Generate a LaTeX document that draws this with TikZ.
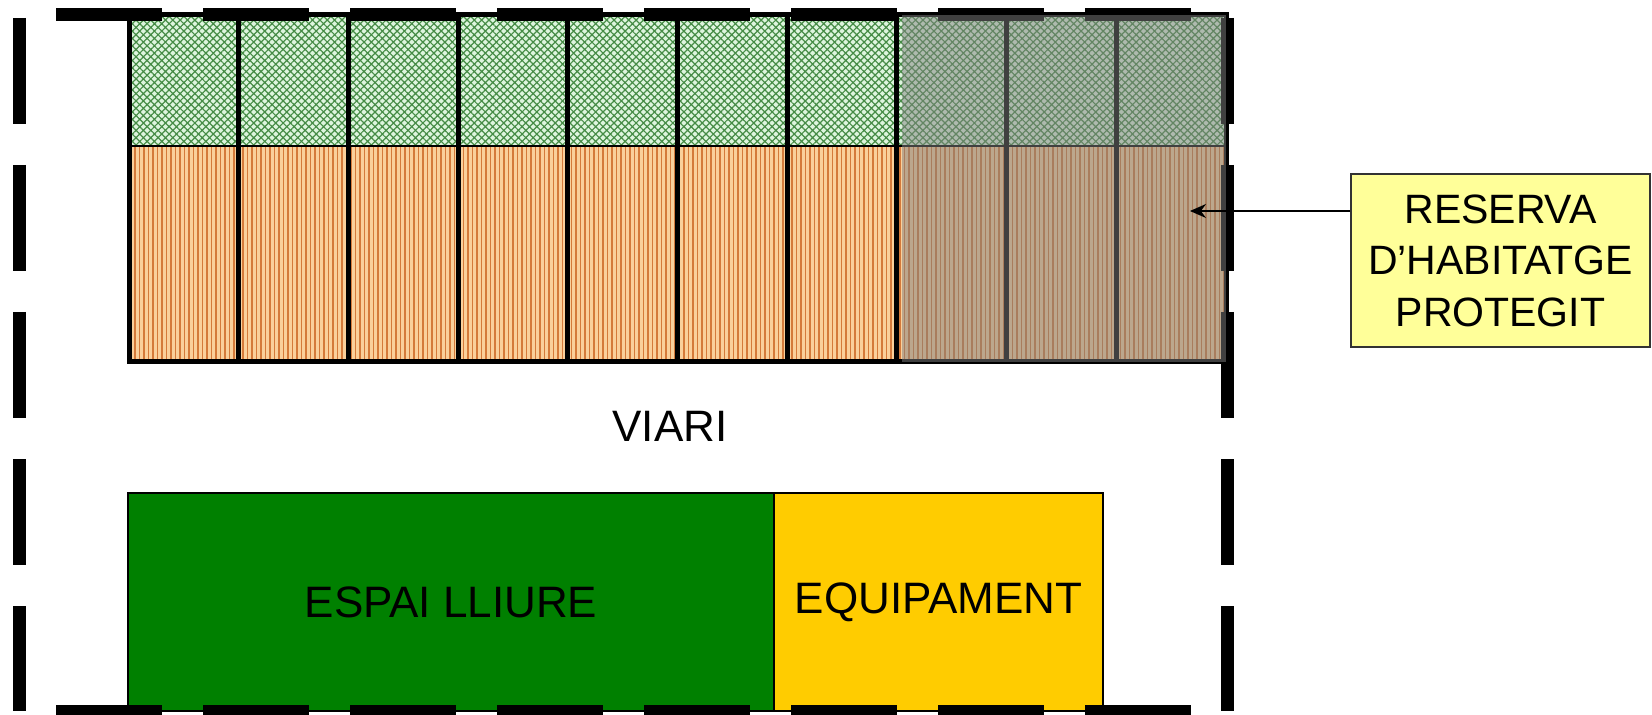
\documentclass[tikz,border=0pt]{standalone}
\usepackage{fontspec}
\setmainfont{Liberation Sans}
\usetikzlibrary{patterns.meta,arrows.meta}
\definecolor{verdclar}{RGB}{222,245,222}
\definecolor{verdfosc}{RGB}{70,140,70}
\definecolor{taronjaclar}{RGB}{250,208,155}
\definecolor{taronjafosc}{RGB}{212,122,58}
\definecolor{lliureverd}{RGB}{0,128,0}
\definecolor{equipgroc}{RGB}{255,204,0}
\definecolor{reservagroc}{RGB}{255,255,153}

\begin{document}
\begin{tikzpicture}[x=0.5pt,y=-0.5pt,
  verdtrama/.style={preaction={fill=verdclar},pattern={Hatch[angle=45,distance=2.6pt,line width=0.6pt]},pattern color=verdfosc},
  taronjatrama/.style={preaction={fill=taronjaclar},pattern={Lines[angle=90,distance=2.25pt,line width=0.9pt]},pattern color=taronjafosc},
  parcela/.style={line width=2.5pt},
  limit/.style={line width=6.5pt,dash pattern=on 53pt off 20.5pt},
  zona/.style={draw,line width=0.75pt,minimum width=#1,minimum height=109pt,inner sep=0pt,font=\fontsize{22}{26}\selectfont}]
\useasboundingbox (0,0) rectangle (1652,715);

% illa d'habitatges
\path[verdtrama] (129,15) rectangle (1226,146);
\path[taronjatrama] (129,146) rectangle (1226,362);
\draw[line width=0.9pt] (129,146) -- (1226,146);
\foreach \i in {1,...,9}
  \draw[parcela] (129+\i*109.7,15) -- (129+\i*109.7,362);
\draw[parcela] (129,15) rectangle (1226,362);

% espai lliure i equipament
\path (451,602) node[zona=323pt,fill=lliureverd] (lliure) {ESPAI LLIURE};
\path (938.5,602) node[zona=164.5pt,fill=equipgroc] (equip) {EQUIPAMENT};

% limit de l'ambit
\draw[limit] (56,14.5) -- (1191,14.5);
\draw[limit] (56,711.5) -- (1191,711.5);
\draw[limit] (19,18) -- (19,711);
\draw[limit] (1227,18) -- (1227,711);

% reserva
\fill[black!50,opacity=0.5] (902,15) rectangle (1226,362);

\path (670,426) node[font=\fontsize{22}{26}\selectfont] (viari) {VIARI};
\path (1500.5,260.5) node[draw=black!80,line width=0.75pt,fill=reservagroc,minimum width=149.5pt,minimum height=86.5pt,align=center,font=\fontsize{20.5}{25.75}\selectfont] (reserva) {RESERVA\\D’HABITATGE\\PROTEGIT};
\coordinate (punta) at (1190,211);
\draw[line width=0.75pt,-{Stealth[length=8pt,width=7pt]}] (punta -| reserva.west) -- (punta);
\end{tikzpicture}
\end{document}
